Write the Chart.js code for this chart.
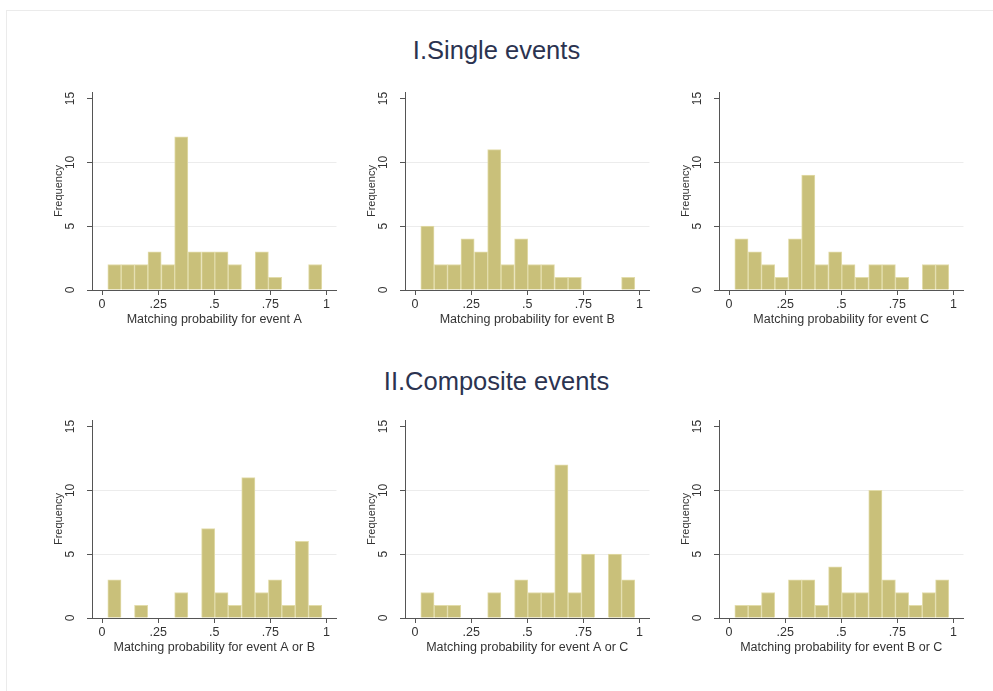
<!DOCTYPE html>
<html>
<head>
<meta charset="utf-8">
<script src="https://cdn.jsdelivr.net/npm/chart.js@4.4.1/dist/chart.umd.min.js"></script>
<style>
  body { margin:0; background:#fff; width:993px; height:691px; overflow:hidden; position:relative; font-family:"Liberation Sans", Arial, sans-serif; }
  .frame { position:absolute; left:6px; top:10px; width:1100px; height:800px; border:1px solid #ebebeb; }
  .sec { position:absolute; left:0; width:993px; text-align:center; font-size:25.5px; line-height:26px; color:#2b3350; }
  canvas { position:absolute; }
</style>
</head>
<body>
<div class="frame"></div>
<div class="sec" style="top:37px">I.Single events</div>
<div class="sec" style="top:368px">II.Composite events</div>
<canvas id="h1" width="300" height="255" style="left:40px; top:75px"></canvas>
<canvas id="h2" width="300" height="255" style="left:353px; top:75px"></canvas>
<canvas id="h3" width="300" height="255" style="left:667px; top:75px"></canvas>
<canvas id="h4" width="300" height="255" style="left:40px; top:403px"></canvas>
<canvas id="h5" width="300" height="255" style="left:353px; top:403px"></canvas>
<canvas id="h6" width="300" height="255" style="left:667px; top:403px"></canvas>
<script>
// bin midpoints (matching probability), 16 bins
const binMids = [0.055, 0.115, 0.174, 0.234, 0.294, 0.353, 0.413, 0.473,
                 0.532, 0.592, 0.652, 0.712, 0.771, 0.831, 0.891, 0.950];

// frequencies per bin
const countsA  = [2, 2, 2, 3, 2, 12, 3, 3, 3, 2, 0, 3, 1, 0, 0, 2];
const countsB  = [5, 2, 2, 4, 3, 11, 2, 4, 2, 2, 1, 1, 0, 0, 0, 1];
const countsC  = [4, 3, 2, 1, 4, 9, 2, 3, 2, 1, 2, 2, 1, 0, 2, 2];
const countsAB = [3, 0, 1, 0, 0, 2, 0, 7, 2, 1, 11, 2, 3, 1, 6, 1];
const countsAC = [2, 1, 1, 0, 0, 2, 0, 3, 2, 2, 12, 2, 5, 0, 5, 3];
const countsBC = [1, 1, 2, 0, 3, 3, 1, 4, 2, 2, 10, 3, 2, 1, 2, 3];

const xTicks = [0, 0.25, 0.5, 0.75, 1];
const xTickLabels = ['0', '.25', '.5', '.75', '1'];
const yTicks = [0, 5, 10, 15];
const yTickLabels = ['0', '5', '10', '15'];

const panels = [
  { id: 'h1', counts: countsA,  title: 'Matching probability for event A' },
  { id: 'h2', counts: countsB,  title: 'Matching probability for event B' },
  { id: 'h3', counts: countsC,  title: 'Matching probability for event C' },
  { id: 'h4', counts: countsAB, title: 'Matching probability for event A or B' },
  { id: 'h5', counts: countsAC, title: 'Matching probability for event A or C' },
  { id: 'h6', counts: countsBC, title: 'Matching probability for event B or C' }
];

const FONT = '"Liberation Sans", Arial, sans-serif';
const AXIS = '#555';

function histo(p) {
  const ctx = document.getElementById(p.id).getContext('2d');
  return new Chart(ctx, {
    type: 'bar',
    data: {
      datasets: [{
        data: binMids.map((x, i) => ({ x: x, y: p.counts[i] })),
        backgroundColor: '#c9c07a',
        borderColor: '#e2dcaa',
        borderWidth: 1,
        borderSkipped: 'start',
        barPercentage: 1,
        categoryPercentage: 1
      }]
    },
    options: {
      responsive: false,
      animation: false,
      devicePixelRatio: 1,
      layout: { padding: { left: 0, right: 3.5, top: 8, bottom: 0 } },
      plugins: { legend: { display: false }, tooltip: { enabled: false } },
      scales: {
        x: {
          type: 'linear',
          offset: false,
          min: -0.045, max: 1.045,
          afterFit: s => { s.height = 40; },
          afterBuildTicks: s => { s.ticks = xTicks.map(v => ({ value: v })); },
          grid: { offset: false, drawOnChartArea: false, drawTicks: true, tickLength: 5, tickColor: AXIS },
          border: { display: true, color: AXIS, width: 1 },
          ticks: {
            padding: 2, color: '#333', maxRotation: 0,
            font: { family: FONT, size: 12.5 },
            callback: v => xTickLabels[xTicks.indexOf(v)]
          },
          title: {
            display: true, text: p.title, color: '#333',
            font: { family: FONT, size: 12.5 }, padding: { top: 0, bottom: 3 }
          }
        },
        y: {
          min: 0, max: 15.5,
          afterFit: s => { s.width = 52; },
          afterBuildTicks: s => { s.ticks = yTicks.map(v => ({ value: v })); },
          grid: {
            drawTicks: true, tickLength: 5, tickColor: AXIS,
            color: c => (c.tick && (c.tick.value === 5 || c.tick.value === 10)) ? '#ececec' : 'rgba(0,0,0,0)'
          },
          border: { display: true, color: AXIS, width: 1 },
          ticks: {
            minRotation: 90, maxRotation: 90, crossAlign: 'center',
            padding: 10, color: '#333',
            font: { family: FONT, size: 12 },
            callback: v => yTickLabels[yTicks.indexOf(v)]
          },
          title: {
            display: true, text: 'Frequency', color: '#333',
            font: { family: FONT, size: 11 }, padding: { top: 12, bottom: 0 }
          }
        }
      }
    }
  });
}

panels.forEach(histo);
</script>
</body>
</html>
